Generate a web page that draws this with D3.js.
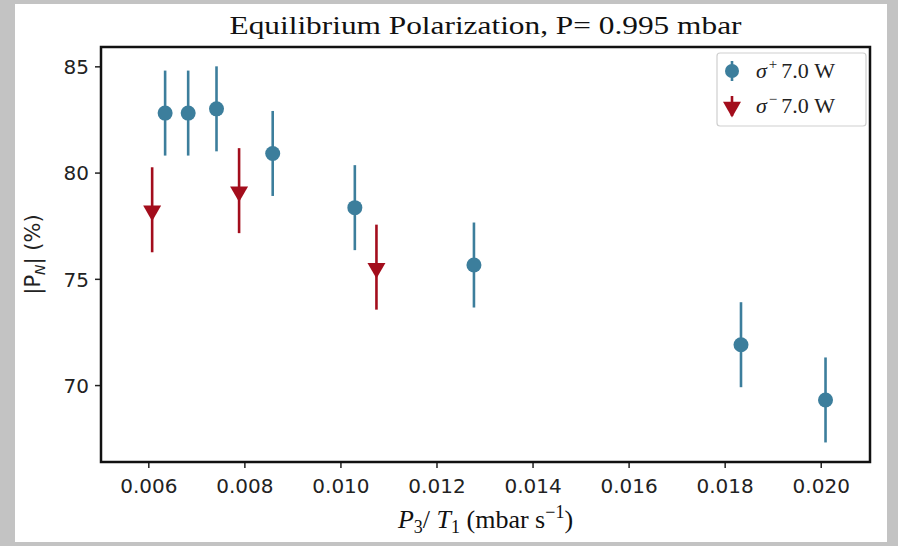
<!DOCTYPE html>
<html>
<head>
<meta charset="utf-8">
<script src="https://cdn.jsdelivr.net/npm/d3@7"></script>
<style>
  html, body { margin: 0; padding: 0; background: #c3c3c3; }
  svg { display: block; }
</style>
</head>
<body>
<svg id="chart" width="898" height="546"></svg>
<script>
// sigma+ series
const plusX = [0.00635, 0.00683, 0.00742, 0.00859, 0.01030, 0.01278, 0.01834, 0.02010];
const plusY = [82.8, 82.8, 83.0, 80.9, 78.35, 75.65, 71.9, 69.3];
const plusErr = [2.0, 2.0, 2.0, 2.0, 2.0, 2.0, 2.0, 2.0];
// sigma- series
const minusX = [0.00608, 0.00789, 0.01075];
const minusY = [78.25, 79.15, 75.55];
const minusErr = [2.0, 2.0, 2.0];

const xTicks = [0.006, 0.008, 0.010, 0.012, 0.014, 0.016, 0.018, 0.020];
const yTicks = [70, 75, 80, 85];

const blue = '#3c7e9c';
const red = '#a30d1c';

const svg = d3.select('#chart');

// white page area
svg.append('rect')
    .attr('x', 15).attr('y', 4)
    .attr('width', 872).attr('height', 538)
    .attr('fill', '#fff');

const plotL = 101, plotR = 870, plotT = 47, plotB = 462;

const x = d3.scaleLinear()
    .domain([0.005015, 0.021026])
    .range([plotL, plotR]);

const y = d3.scaleLinear()
    .domain([66.38, 85.91])
    .range([plotB, plotT]);

// axes
const xAxis = svg.append('g')
    .attr('transform', `translate(0,${plotB})`)
    .call(d3.axisBottom(x).tickValues(xTicks).tickFormat(d3.format('.3f')).tickSize(6).tickPadding(6));

const yAxis = svg.append('g')
    .attr('transform', `translate(${plotL},0)`)
    .call(d3.axisLeft(y).tickValues(yTicks).tickSize(6).tickPadding(6));

[xAxis, yAxis].forEach(g => {
    g.select('.domain').remove();
    g.selectAll('line').attr('stroke', '#222').attr('stroke-width', 1.5);
    g.selectAll('text')
        .attr('fill', '#222')
        .style('font-family', '"DejaVu Sans", sans-serif')
        .style('font-size', '20px');
});
xAxis.selectAll('text').attr('dy', '0.95em');
yAxis.selectAll('text').attr('dy', '0.36em');

// frame
svg.append('rect')
    .attr('x', plotL).attr('y', plotT)
    .attr('width', plotR - plotL).attr('height', plotB - plotT)
    .attr('fill', 'none')
    .attr('stroke', '#111')
    .attr('stroke-width', 2.5);

// data
const plus = plusX.map((v, i) => ({ x: v, y: plusY[i], e: plusErr[i] }));
const minus = minusX.map((v, i) => ({ x: v, y: minusY[i], e: minusErr[i] }));

const tri = d3.symbol().type(d3.symbolTriangle).size(140);

function drawSeries(data, color, kind) {
    const g = svg.append('g');
    g.selectAll('line')
        .data(data)
        .enter()
        .append('line')
        .attr('x1', d => x(d.x)).attr('x2', d => x(d.x))
        .attr('y1', d => y(d.y + d.e)).attr('y2', d => y(d.y - d.e))
        .attr('stroke', color)
        .attr('stroke-width', 2.6);
    if (kind === 'circle') {
        g.selectAll('circle')
            .data(data)
            .enter()
            .append('circle')
            .attr('cx', d => x(d.x))
            .attr('cy', d => y(d.y))
            .attr('r', 7.5)
            .attr('fill', color);
    } else {
        g.selectAll('path')
            .data(data)
            .enter()
            .append('path')
            .attr('d', tri)
            .attr('transform', d => `translate(${x(d.x)},${y(d.y) + 1}) rotate(180)`)
            .attr('fill', color);
    }
}

drawSeries(plus, blue, 'circle');
drawSeries(minus, red, 'triangle');

// title
svg.append('text')
    .attr('x', (plotL + plotR) / 2)
    .attr('y', 34)
    .attr('text-anchor', 'middle')
    .attr('textLength', 512)
    .attr('lengthAdjust', 'spacingAndGlyphs')
    .style('font-family', '"Liberation Serif", serif')
    .style('font-size', '26px')
    .attr('fill', '#111')
    .text('Equilibrium Polarization, P= 0.995 mbar');

// x label
const xl = svg.append('text')
    .attr('x', (plotL + plotR) / 2)
    .attr('y', 528)
    .attr('text-anchor', 'middle')
    .style('font-family', '"Liberation Serif", serif')
    .style('font-size', '26px')
    .attr('fill', '#111');
xl.append('tspan').style('font-style', 'italic').text('P');
xl.append('tspan').attr('dy', 5).style('font-size', '18px').text('3');
xl.append('tspan').attr('dy', -5).text('/ ');
xl.append('tspan').style('font-style', 'italic').text('T');
xl.append('tspan').attr('dy', 5).style('font-size', '18px').text('1');
xl.append('tspan').attr('dy', -5).text(' (mbar s');
xl.append('tspan').attr('dy', -10).style('font-size', '18px').text('−1');
xl.append('tspan').attr('dy', 10).text(')');

// y label
const yl = svg.append('text')
    .attr('transform', `translate(40,${(plotT + plotB) / 2}) rotate(-90)`)
    .attr('text-anchor', 'middle')
    .style('font-family', '"DejaVu Sans", sans-serif')
    .style('font-size', '21px')
    .attr('fill', '#222');
yl.append('tspan').text('|P');
yl.append('tspan').attr('dy', 5).style('font-size', '14px').style('font-style', 'italic').text('N');
yl.append('tspan').attr('dy', -5).text('| (%)');

// legend
const legend = svg.append('g');
legend.append('rect')
    .attr('x', 717).attr('y', 53)
    .attr('width', 149).attr('height', 73)
    .attr('rx', 3)
    .attr('fill', '#fff')
    .attr('stroke', '#cfcfcf')
    .attr('stroke-width', 1.2);

const legendItems = [
    { color: blue, kind: 'circle', sign: '+', label: '7.0 W', cy: 71 },
    { color: red, kind: 'triangle', sign: '−', label: '7.0 W', cy: 106 }
];

legendItems.forEach(it => {
    legend.append('line')
        .attr('x1', 732).attr('x2', 732)
        .attr('y1', it.cy - 10).attr('y2', it.cy + 10)
        .attr('stroke', it.color)
        .attr('stroke-width', 2.6);
    if (it.kind === 'circle') {
        legend.append('circle')
            .attr('cx', 732).attr('cy', it.cy).attr('r', 7)
            .attr('fill', it.color);
    } else {
        legend.append('path')
            .attr('d', tri)
            .attr('transform', `translate(732,${it.cy + 1}) rotate(180)`)
            .attr('fill', it.color);
    }
    const t = legend.append('text')
        .attr('x', 756)
        .attr('y', it.cy + 7)
        .style('font-family', '"Liberation Serif", serif')
        .style('font-size', '22px')
        .attr('fill', '#222');
    t.append('tspan').style('font-style', 'italic').text('σ');
    t.append('tspan').attr('dx', 2).attr('dy', -9).style('font-size', '15px').text(it.sign);
    t.append('tspan').attr('dx', 4).attr('dy', 9).text(it.label);
});
</script>
</body>
</html>
